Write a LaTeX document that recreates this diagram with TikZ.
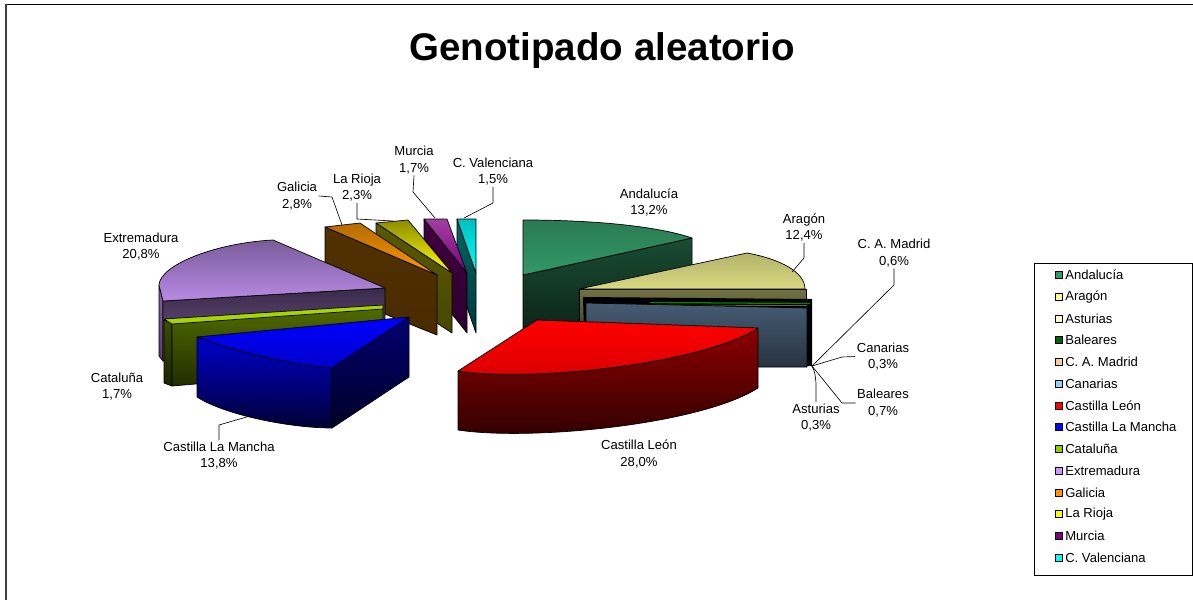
\documentclass[tikz,border=0pt]{standalone}
\usepackage{fontspec}
\setmainfont{Liberation Sans}
\usetikzlibrary{calc}
\definecolor{andal}{HTML}{339966}
\definecolor{aragon}{HTML}{FFFF99}
\definecolor{astur}{HTML}{FFFFCC}
\definecolor{balear}{HTML}{006600}
\definecolor{madrid}{HTML}{FFCC99}
\definecolor{canar}{HTML}{99CCFF}
\definecolor{cleon}{HTML}{FF0000}
\definecolor{clmancha}{HTML}{0000FF}
\definecolor{catal}{HTML}{99CC00}
\definecolor{extrem}{HTML}{CC99FF}
\definecolor{galic}{HTML}{FF9900}
\definecolor{rioja}{HTML}{FFFF00}
\definecolor{murc}{HTML}{800080}
\definecolor{valenc}{HTML}{00FFFF}
\tikzset{
  face/.style={draw=black,line width=0.5pt,line join=round},
  leader/.style={draw=black,line width=0.45pt},
  lbl/.style={align=center,inner sep=1pt,font=\fontsize{9.3}{11.7}\selectfont},
  lgd/.style={anchor=west,inner sep=0pt,font=\fontsize{9.3}{11.7}\selectfont}
}

\begin{document}
\begin{tikzpicture}[x=0.025cm,y=-0.025cm]
\useasboundingbox (0,0) rectangle (1193,600);
\draw[line width=0.7pt] (6,4) -- (1193,4);
\draw[black!75,line width=1.3pt] (6,4) -- (6,600);
\node[font=\fontsize{27.4}{33}\selectfont\bfseries,anchor=base] (title) at (602,60) {Genotipado aleatorio};

% slices at the back
\draw[face,top color=andal!50!black,bottom color=andal!22!black] (523,275) -- (692,238) -- (692,300) -- (523,337) -- cycle;
\draw[face,top color=andal!80!black,bottom color=andal] (523,220) .. controls (600,220) and (660,227) .. (692,238) -- (523,275) -- cycle;

\draw[face,top color=valenc!40!black,bottom color=valenc!22!black] (457,219) -- (476,273) -- (476,333) -- (457,279) -- cycle;
\draw[face,top color=valenc!75!black,bottom color=valenc] (457,219) -- (476,219) -- (476,273) -- cycle;
\draw[face,top color=murc!50!black,bottom color=murc!35!black] (424,219) -- (467,273) -- (467,333) -- (424,279) -- cycle;
\draw[face,top color=murc!75!white,bottom color=murc] (424,219) -- (447,219) -- (467,273) -- cycle;
\draw[face,top color=rioja!35!black,middle color=rioja!58!black,bottom color=rioja!28!black] (376,223) -- (452,273) -- (452,333) -- (376,283) -- cycle;
\draw[face,top color=rioja!55!black,bottom color=rioja] (376,223) -- (408,220) -- (452,273) -- cycle;
\draw[face,top color=galic!32!black,middle color=galic!55!black,bottom color=galic!28!black] (325,227) -- (437,275) -- (437,335) -- (325,290) -- cycle;
\draw[face,top color=galic!70!black,bottom color=galic] (325,227) -- (360,223) -- (437,275) -- cycle;

\draw[face,top color=aragon!45!black,bottom color=aragon!18!black] (579,289) -- (806,289) -- (806,350) -- (579,350) -- cycle;
\draw[face,top color=aragon!70!black,middle color=aragon,bottom color=aragon!85!black] (579,289) -- (747,253) .. controls (780,259) and (805,272) .. (805,289) -- cycle;

% small slices and Canarias
\coordinate (hub) at (812,366);
\fill[black] (583,297) -- (812,299) -- (hub) -- (585,369) -- cycle;
\draw[balear!80!green,line width=0.9pt] (650,302.5) -- (810,303.5);
\draw[madrid!45!black,line width=0.6pt] (610,305) -- (807,305.5);
\draw[face,top color=canar!45!black,middle color=canar!62!black,bottom color=canar!25!black] (586,303) -- (807,308) -- (807,367) -- (586,367) -- cycle;

% left slices
\draw[face,top color=extrem!65!black,bottom color=extrem!40!black] (159,285) -- (163,301) -- (163,361) -- (159,356) -- cycle;
\draw[face,top color=extrem!28!black,bottom color=extrem!58!black] (163,301) -- (385,288) -- (385,348) -- (163,361) -- cycle;
\draw[face,top color=extrem!60!black,middle color=extrem,bottom color=extrem!90!black] (385,288) -- (273,240) .. controls (215,243) and (160,265) .. (159,285) -- (163,301) -- cycle;

\draw[face,top color=catal!38!black,bottom color=catal!18!black] (164,320) -- (172,323) -- (172,386) -- (164,383) -- cycle;
\draw[face,top color=catal!52!black,bottom color=catal!22!black] (172,323) -- (383,308) -- (383,368) -- (172,386) -- cycle;
\draw[face,fill=catal!85!yellow] (164,319) -- (383,305) -- (383,309) -- (172,324) -- cycle;

\draw[face,top color=clmancha!80!black,bottom color=clmancha!20!black] (197,337) .. controls (230,350) and (290,365) .. (332,368) -- (332,428) .. controls (290,428) and (225,415) .. (197,397) -- cycle;
\draw[face,top color=clmancha!45!black,bottom color=clmancha!15!black] (332,368) -- (409,317) -- (409,377) -- (332,428) -- cycle;
\draw[face,top color=clmancha,bottom color=clmancha!80!black] (197,337) .. controls (230,350) and (290,365) .. (332,368) -- (409,317) -- cycle;

% front slice
\draw[face,top color=cleon!55!black,bottom color=cleon!18!black] (458,371) .. controls (530,382) and (700,365) .. (758,328) -- (758,388) .. controls (700,425) and (530,441) .. (458,430) -- cycle;
\draw[face,top color=cleon,bottom color=cleon!85!black] (458,371) -- (537,320) -- (758,328) .. controls (700,365) and (530,382) .. (458,371) -- cycle;

% labels
\node[lbl] (lblAnd) at (649,202.5) {Andaluc\'ia\\13,2\%};
\node[lbl] (lblArg) at (804,227.5) {Arag\'on\\12,4\%};
\node[lbl] (lblMad) at (894,253) {C. A. Madrid\\0,6\%};
\node[lbl] (lblCan) at (883,356.5) {Canarias\\0,3\%};
\node[lbl] (lblBal) at (883,403) {Baleares\\0,7\%};
\node[lbl] (lblAst) at (816,417.5) {Asturias\\0,3\%};
\node[lbl] (lblCyL) at (639,454) {Castilla Le\'on\\28,0\%};
\node[lbl] (lblCLM) at (219,455.5) {Castilla La Mancha\\13,8\%};
\node[lbl] (lblCat) at (117,386.5) {Catalu\~na\\1,7\%};
\node[lbl] (lblExt) at (141,246.5) {Extremadura\\20,8\%};
\node[lbl] (lblGal) at (297,196) {Galicia\\2,8\%};
\node[lbl] (lblRio) at (357,187.5) {La Rioja\\2,3\%};
\node[lbl] (lblMur) at (414,160) {Murcia\\1,7\%};
\node[lbl] (lblVal) at (493,171.5) {C. Valenciana\\1,5\%};

\draw[leader] (lblArg.south) -- (804,258) -- (792,272);
\draw[leader] (lblMad.south) -- (894,285) -- (hub);
\draw[leader] (lblCan.west) -- (842,357) -- (hub);
\draw[leader] (lblBal.west) -- (842,403) -- (hub);
\draw[leader] (lblAst.north) -- (816,383) .. controls (815,373) .. (hub);
\draw[leader] (lblCLM.north) -- (219,425) -- (250,416);
\draw[leader] (lblGal.east) -- (332,197) -- (342,225);
\draw[leader] (lblRio.south) -- (357,219) -- (393,221);
\draw[leader] (lblMur.south) -- (413,192) -- (435,218);
\draw[leader] (lblVal.south) -- (493,203) -- (464,218);

% legend
\draw[line width=0.6pt] (1034,263) rectangle (1192,575);
\foreach \nm/\col [count=\i from 0] in {Andaluc\'ia/andal,Arag\'on/aragon,Asturias/astur,Baleares/balear,C. A. Madrid/madrid,Canarias/canar,Castilla Le\'on/cleon,Castilla La Mancha/clmancha,Catalu\~na/catal,Extremadura/extrem,Galicia/galic,La Rioja/rioja,Murcia/murc,C. Valenciana/valenc}{
  \draw[line width=0.5pt,fill=\col] ({1055.5},{271.5+21.75*\i}) rectangle +(7,7);
  \node[lgd] (lgd\i) at ({1065},{275+21.75*\i}) {\nm};
}
\end{tikzpicture}
\end{document}
